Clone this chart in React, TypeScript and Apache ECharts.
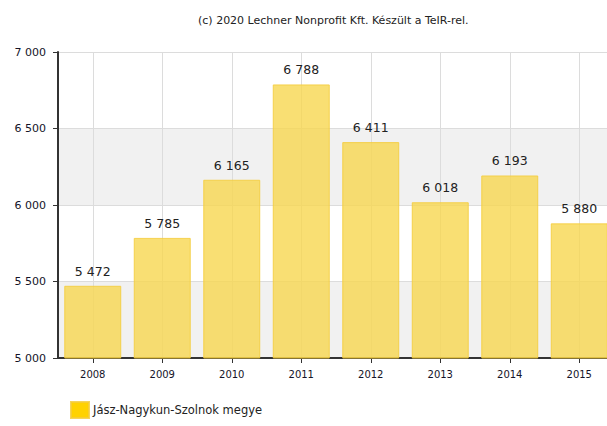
import React, { useEffect, useRef } from "react";
import * as echarts from "echarts";

const years = ["2008", "2009", "2010", "2011", "2012", "2013", "2014", "2015"];
const values = [5472, 5785, 6165, 6788, 6411, 6018, 6193, 5880];
const seriesName = "Jász-Nagykun-Szolnok megye";
const titleText = "(c) 2020 Lechner Nonprofit Kft. Készült a TeIR-rel.";

const fmt = (v: number) => {
  const s = Math.round(v).toString();
  return s.replace(/\B(?=(\d{3})+(?!\d))/g, " ");
};

export default function App() {
  const ref = useRef<HTMLDivElement>(null);
  useEffect(() => {
    if (!ref.current) return;
    const chart = echarts.init(ref.current, undefined, { renderer: "svg" });
    const font = "DejaVu Sans";
    chart.setOption({
      animation: false,
      backgroundColor: "#ffffff",
      textStyle: { fontFamily: font },
      title: {
        text: titleText,
        left: 193,
        top: 10,
        textStyle: { fontSize: 11, fontWeight: "normal", color: "#222", fontFamily: font },
      },
      legend: {
        left: 65,
        bottom: 2,
        itemWidth: 18,
        itemHeight: 16,
        itemGap: 4,
        icon: "rect",
        textStyle: { fontSize: 11.5, color: "#222", fontFamily: font, padding: [0, 0, 0, -1] },
        data: [{ name: seriesName, itemStyle: { color: "#FFD200" } }],
      },
      grid: {
        left: 58,
        width: 556,
        top: 52,
        bottom: 68,
        containLabel: false,
        outerBoundsMode: "none",
      },
      xAxis: {
        type: "category",
        data: years,
        axisLine: { show: true, lineStyle: { color: "#333", width: 2 } },
        axisTick: { show: true, alignWithLabel: true, length: 5, lineStyle: { color: "#333" } },
        axisLabel: { fontSize: 10, color: "#141428", margin: 11, fontFamily: font },
        splitLine: { show: true, alignWithLabel: true, lineStyle: { color: "#dcdcdc", width: 1 } },
      },
      yAxis: {
        type: "value",
        min: 5000,
        max: 7000,
        interval: 500,
        axisLine: { show: true, lineStyle: { color: "#333", width: 2 } },
        axisTick: { show: true, length: 5, lineStyle: { color: "#333" } },
        axisLabel: { fontSize: 11, color: "#141428", margin: 12, formatter: (v: number) => fmt(v), fontFamily: font },
        splitLine: { show: true, lineStyle: { color: "#dcdcdc", width: 1 } },
        splitArea: { show: true, areaStyle: { color: ["#f1f1f1", "#ffffff"] } },
      },
      series: [
        {
          name: seriesName,
          type: "bar",
          data: values,
          barCategoryGap: "18%",
          itemStyle: {
            color: "rgba(248, 215, 80, 0.8)",
            borderColor: "rgba(245, 205, 60, 0.85)",
            borderWidth: 1,
          },
          label: {
            show: true,
            position: "top",
            distance: 8,
            fontSize: 12.5,
            color: "#222",
            fontFamily: font,
            formatter: (p: any) => fmt(p.value),
          },
        },
      ],
    });
    return () => chart.dispose();
  }, []);
  return <div ref={ref} style={{ position: "fixed", left: 0, top: 0, width: 607, height: 426 }} />;
}
